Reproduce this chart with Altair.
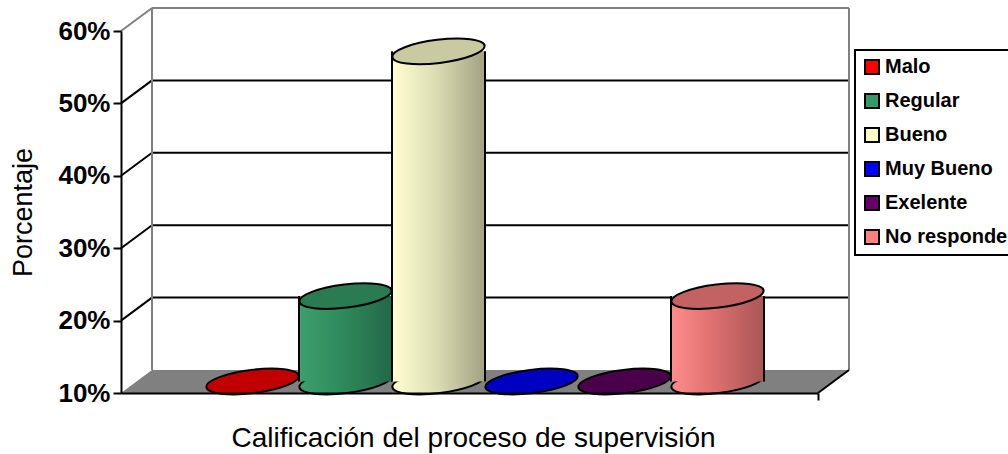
import altair as alt
import pandas as pd

# ---------------- data ----------------
categories = ["Malo", "Regular", "Bueno", "Muy Bueno", "Exelente", "No responde"]
values = [0.0, 0.218, 0.556, 0.0, 0.0, 0.218]
legend_colors = ["#FF0000", "#339966", "#FFFFCC", "#0000FF", "#660066", "#FF8080"]
side_light = ["#E00000", "#3DA06E", "#FFFFD2", "#0000E0", "#5A005A", "#FF8C8C"]
side_mid = ["#C00000", "#2F8A5C", "#DEDEB6", "#0000C0", "#4A004A", "#DE7070"]
side_dark = ["#A00000", "#236848", "#A2A282", "#0000A0", "#3A003A", "#A85656"]
top_colors = ["#C00000", "#2A7A52", "#C9C9A2", "#0000C0", "#4A004A", "#C26262"]
y_ticks = [0.1, 0.2, 0.3, 0.4, 0.5, 0.6]
x_title = "Calificación del proceso de supervisión"
y_title = "Porcentaje"

# ---------------- layout ----------------
W, H = 697, 362
LEFT, TOP = 121, 31
BAND = 93
DEPTH_X, DEPTH_Y = 31, 23
FONT = "Liberation Sans"
GRAY = "#808080"
Y_MIN, Y_MAX = y_ticks[0], y_ticks[-1]

n = len(categories)
mid = (n - 1) / 2
half = W / (2 * BAND)
X0, X1 = mid - half, mid + half
DXU = DEPTH_X / BAND
DYU = DEPTH_Y * (Y_MAX - Y_MIN) / H
CX, CY = DEPTH_X / 2, -DEPTH_Y / 2
ELLIPSE = "M -1 0 A 1 0.25 0 1 0 1 0 A 1 0.25 0 1 0 -1 0 Z"
TILT = 353

xs = alt.Scale(domain=[X0, X1], nice=False, zero=False, padding=0)
ys = alt.Scale(domain=[Y_MIN, Y_MAX], nice=False, zero=False, padding=0)

x_axis = alt.Axis(
    values=[X1], labels=False, grid=False, domainColor="black", domainWidth=2,
    tickColor="black", tickWidth=2, tickSize=7, zindex=1,
    title=x_title, titleFont=FONT, titleFontSize=28, titleFontWeight="normal",
    titleColor="black", titleBaseline="alphabetic", titleX=352, titleY=53.5,
)
y_axis = alt.Axis(
    values=y_ticks, format=".0%", grid=False, domainColor="black", domainWidth=2,
    tickColor="black", tickWidth=2, tickSize=8, zindex=1,
    labelFont=FONT, labelFontSize=26, labelFontWeight="bold", labelColor="black",
    labelPadding=3,
    title=y_title, titleFont=FONT, titleFontSize=27, titleFontWeight="normal",
    titleColor="black", titleAngle=270, titleBaseline="alphabetic",
    titleX=-90, titleY=H / 2, titleAlign="center",
)


def X(f):
    return alt.X(f, type="quantitative", scale=xs, axis=x_axis, title=x_title)


def Y(f):
    return alt.Y(f, type="quantitative", scale=ys, axis=y_axis, title=y_title)


def X2(f):
    return alt.X2(f)


def Y2(f):
    return alt.Y2(f)


def grad(a, b, c):
    return alt.Gradient(
        gradient="linear",
        stops=[
            alt.GradientStop(color=a, offset=0),
            alt.GradientStop(color=b, offset=0.45),
            alt.GradientStop(color=c, offset=1),
        ],
        x1=0, x2=1, y1=0, y2=0,
    )


# ---------------- tables ----------------
floor_df = pd.DataFrame({
    "x": [X0, X0 + DXU, X1, X1 + DXU],
    "ylo": [Y_MIN, Y_MIN, Y_MIN, Y_MIN + DYU],
    "yhi": [Y_MIN, Y_MIN + DYU, Y_MIN + DYU, Y_MIN + DYU],
})
grid_df = pd.DataFrame({"v": y_ticks[1:-1]})
grid_df["x0"] = X0
grid_df["x1"] = X1
top_df = pd.DataFrame({"v": [Y_MAX], "x0": [X0], "x1": [X1]})
vert_df = pd.DataFrame({"x": [X0, X1], "lo": [Y_MIN, Y_MIN], "hi": [Y_MAX, Y_MAX]})
edge_df = pd.DataFrame({"x": [X1], "v": [Y_MIN]})

cyl = pd.DataFrame({"idx": list(range(n)), "cat": categories, "val": values})
cyl["base"] = Y_MIN
cyl["top"] = cyl["val"].clip(lower=Y_MIN)

layers = []

# floor
layers.append(
    alt.Chart(floor_df).mark_area(color=GRAY, opacity=1).encode(
        x=X("x"), y=Y("yhi"), y2=Y2("ylo")
    )
)
# back wall gridlines
layers.append(
    alt.Chart(grid_df).mark_rule(color="black", strokeWidth=2, xOffset=DEPTH_X,
                                 x2Offset=DEPTH_X, yOffset=-DEPTH_Y).encode(
        x=X("x0"), x2=X2("x1"), y=Y("v")
    )
)
# side wall gridlines
layers.append(
    alt.Chart(grid_df).mark_rule(color="black", strokeWidth=2, x2Offset=DEPTH_X,
                                 y2Offset=-DEPTH_Y).encode(
        x=X("x0"), x2=X2("x0"), y=Y("v"), y2=Y2("v")
    )
)
# gray frame
layers.append(
    alt.Chart(top_df).mark_rule(color=GRAY, strokeWidth=2, xOffset=DEPTH_X,
                                x2Offset=DEPTH_X, yOffset=-DEPTH_Y).encode(
        x=X("x0"), x2=X2("x1"), y=Y("v")
    )
)
layers.append(
    alt.Chart(top_df).mark_rule(color=GRAY, strokeWidth=2, x2Offset=DEPTH_X,
                                y2Offset=-DEPTH_Y).encode(
        x=X("x0"), x2=X2("x0"), y=Y("v"), y2=Y2("v")
    )
)
layers.append(
    alt.Chart(vert_df).mark_rule(color=GRAY, strokeWidth=2, xOffset=DEPTH_X,
                                 yOffset=-DEPTH_Y, y2Offset=-DEPTH_Y).encode(
        x=X("x"), y=Y("lo"), y2=Y2("hi")
    )
)
# right floor edge
layers.append(
    alt.Chart(edge_df).mark_rule(color="black", strokeWidth=2, x2Offset=DEPTH_X,
                                 y2Offset=-DEPTH_Y).encode(
        x=X("x"), x2=X2("x"), y=Y("v"), y2=Y2("v")
    )
)


def ellipse(df, yfield, fill):
    return alt.Chart(df).mark_point(
        shape=ELLIPSE, size=BAND ** 2, filled=True, fill=fill, stroke="black",
        strokeWidth=2, opacity=1, angle=TILT, xOffset=CX, yOffset=CY,
    ).encode(x=X("idx"), y=Y(yfield))


for i in range(n):
    row = cyl.iloc[[i]]
    g = grad(side_light[i], side_mid[i], side_dark[i])
    if values[i] > Y_MIN:
        layers.append(ellipse(row, "base", g))
        layers.append(
            alt.Chart(row).mark_bar(width=BAND, fill=g, opacity=1, xOffset=CX,
                                    yOffset=CY, y2Offset=CY).encode(
                x=X("idx"), y=Y("top"), y2=Y2("base")
            )
        )
        for side in (-1, 1):
            layers.append(
                alt.Chart(row).mark_rule(color="black", strokeWidth=2,
                                         xOffset=CX + side * BAND / 2,
                                         yOffset=CY, y2Offset=CY).encode(
                    x=X("idx"), y=Y("top"), y2=Y2("base")
                )
            )
        layers.append(ellipse(row, "top", top_colors[i]))
    else:
        layers.append(ellipse(row, "base", top_colors[i]))

# legend carrier
layers.append(
    alt.Chart(cyl).mark_square(opacity=0, size=1, stroke="black", strokeWidth=2).encode(
        x=X("idx"), y=Y("base"),
        color=alt.Color(
            "cat:N", title=None,
            scale=alt.Scale(domain=categories, range=legend_colors),
            sort=categories,
            legend=alt.Legend(
                orient="none", legendX=855 - LEFT, legendY=50 - TOP,
                symbolType="square", symbolSize=196, symbolStrokeColor="black",
                symbolStrokeWidth=2, symbolOpacity=1,
                labelFont=FONT, labelFontSize=20, labelFontWeight="bold",
                labelColor="black", labelOffset=3, rowPadding=12, padding=7,
                fillColor="white", strokeColor="black",
            ),
        ),
    )
)

chart = alt.layer(*layers).properties(
    width=W, height=H, autosize="none", background="white",
    padding={"left": LEFT, "top": TOP, "right": 1008 - LEFT - W, "bottom": 454 - TOP - H},
).configure_view(strokeWidth=0).configure_legend(strokeWidth=2)

chart.save("out.html", embed_options={"renderer": "svg", "actions": False})
